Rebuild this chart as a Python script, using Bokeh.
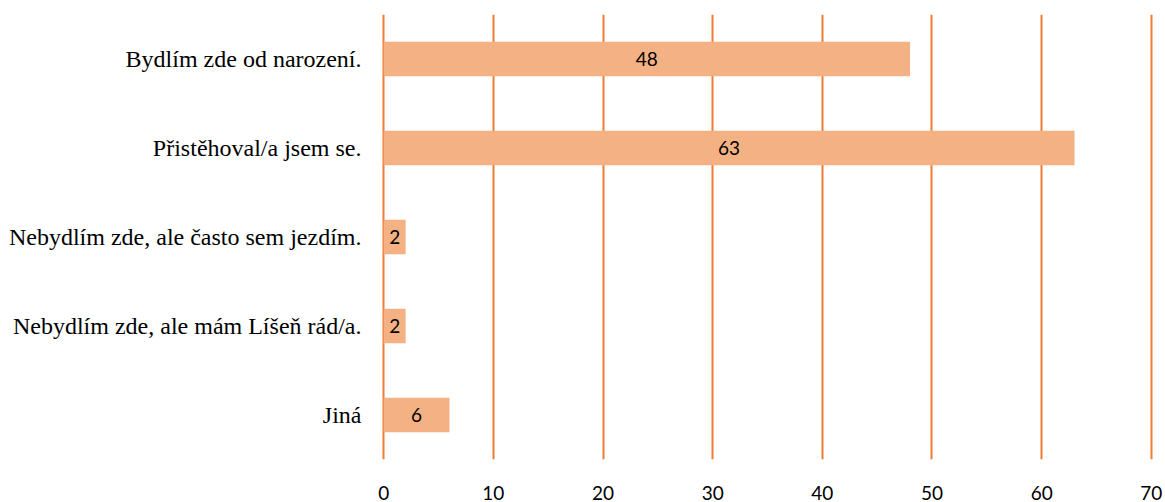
from bokeh.plotting import figure
from bokeh.models import ColumnDataSource, FixedTicker, LabelSet
from bokeh.core.properties import value
from bokeh.embed import file_html
from bokeh.resources import INLINE

categories = ["Bydlím zde od narození.", "Přistěhoval/a jsem se.",
              "Nebydlím zde, ale často sem jezdím.", "Nebydlím zde, ale mám Líšeň rád/a.", "Jiná"]
values = [48, 63, 2, 2, 6]
x_ticks = [0, 10, 20, 30, 40, 50, 60, 70]

src = ColumnDataSource(dict(cat=categories, val=values, mid=[v / 2 for v in values],
                            lab=[str(v) for v in values]))

pad = 0.2
p = figure(width=1165, height=502, y_range=list(reversed(categories)), x_range=(-pad, 70 + pad),
           output_backend="svg", toolbar_location=None,
           min_border_left=381, min_border_right=12, min_border_top=14, min_border_bottom=42)
p.outline_line_color = None
p.background_fill_color = "white"

p.hbar(y="cat", right="val", left=0, height=0.39, source=src, color="#F4B183", line_color=None)

labels = LabelSet(x="mid", y="cat", text="lab", source=src, text_align="center",
                  text_baseline="middle", text_font=value("Lato"), text_font_size=value("19px"),
                  text_color="#000000")
p.add_layout(labels)

p.xaxis.ticker = FixedTicker(ticks=x_ticks)
p.xgrid.ticker = FixedTicker(ticks=x_ticks)
p.xgrid.grid_line_color = "#ED7D31"
p.xgrid.grid_line_width = 2
p.ygrid.grid_line_color = None

for ax in (p.xaxis, p.yaxis):
    ax.axis_line_color = None
    ax.major_tick_line_color = None
    ax.minor_tick_line_color = None
p.xaxis.major_label_text_font = "Lato"
p.xaxis.major_label_text_font_size = "19px"
p.xaxis.major_label_text_color = "#000000"
p.xaxis.major_label_standoff = 20
p.yaxis.major_label_text_font = "Liberation Serif"
p.yaxis.major_label_text_font_size = "24px"
p.yaxis.major_label_text_color = "#000000"
p.yaxis.major_label_standoff = 14

open("out.html", "w").write(file_html(p, INLINE))
